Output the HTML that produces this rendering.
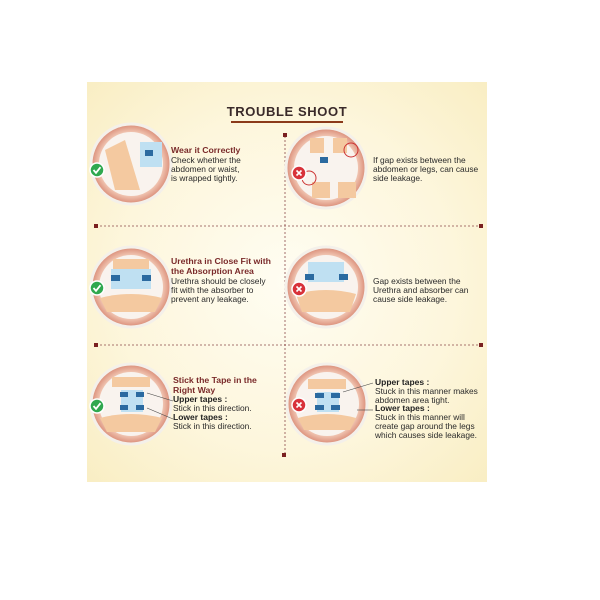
<!DOCTYPE html>
<html><head><meta charset="utf-8"><style>
html,body{margin:0;padding:0;background:#fff;}
svg{display:block}
text{font-family:"Liberation Sans",Arial,sans-serif;}
.t{fill:#7a2a2a;font-weight:bold;font-size:8.7px}
.b{fill:#2a2a2a;font-size:8.4px}
.bb{fill:#222;font-weight:bold;font-size:8.5px}
</style></head><body>
<svg width="600" height="600" viewBox="0 0 600 600" xmlns="http://www.w3.org/2000/svg">
<defs>
<radialGradient id="bg" cx="0.5" cy="0.5" r="0.7">
<stop offset="0" stop-color="#fffdf2"/><stop offset="0.6" stop-color="#fdf6dc"/><stop offset="1" stop-color="#f9eec4"/>
</radialGradient>
<radialGradient id="cir" cx="0.5" cy="0.5" r="0.5">
<stop offset="0.75" stop-color="#f6d3c0"/><stop offset="1" stop-color="#d98a75"/>
</radialGradient>
<g id="ok"><circle r="7" fill="#2fa84f" stroke="#fff" stroke-width="1.5"/><path d="M-3.5,0 L-1,2.8 L3.5,-2.8" stroke="#fff" stroke-width="1.8" fill="none"/></g>
<g id="no"><circle r="7" fill="#d8323a" stroke="#fff" stroke-width="1.5"/><path d="M-2.5,-2.5 L2.5,2.5 M2.5,-2.5 L-2.5,2.5" stroke="#fff" stroke-width="1.6"/></g>
</defs>
<rect x="87" y="82" width="400" height="400" fill="url(#bg)"/>
<text x="287" y="116" text-anchor="middle" font-size="13" font-weight="bold" fill="#3a2a2a" letter-spacing="0.6">TROUBLE  SHOOT</text>
<rect x="231" y="121" width="112" height="2" fill="#8b3a1a"/>
<g stroke="#8b4a4a" stroke-width="0.8" stroke-dasharray="2,2" fill="none">
<line x1="285" y1="136" x2="285" y2="455"/>
<line x1="96" y1="226" x2="481" y2="226"/>
<line x1="96" y1="345" x2="481" y2="345"/>
</g>
<g fill="#7a2020">
<rect x="283" y="133" width="4" height="4"/><rect x="282" y="453" width="4" height="4"/>
<rect x="94" y="224" width="4" height="4"/><rect x="479" y="224" width="4" height="4"/>
<rect x="94" y="343" width="4" height="4"/><rect x="479" y="343" width="4" height="4"/>
</g>
<g>
<circle cx="131" cy="164" r="40" fill="url(#cir)" stroke="#f4f0ea" stroke-width="3"/>
<circle cx="131" cy="164" r="32" fill="#f9f3ee"/>
<path d="M105,150 L125,140 L140,190 L115,190Z" fill="#f4c9a0"/><rect x="140" y="142" width="22" height="25" fill="#bfe0f2"/><rect x="145" y="150" width="8" height="6" fill="#2b6aa0"/>
<use href="#ok" x="97" y="170"/>
</g>
<g>
<circle cx="326" cy="168" r="40" fill="url(#cir)" stroke="#f4f0ea" stroke-width="3"/>
<circle cx="326" cy="168" r="32" fill="#f9f3ee"/>
<rect x="310" y="138" width="14" height="15" fill="#f4c9a0"/><rect x="333" y="138" width="14" height="15" fill="#f4c9a0"/>
<rect x="312" y="182" width="18" height="16" fill="#f4c9a0"/><rect x="338" y="182" width="18" height="16" fill="#f4c9a0"/>
<rect x="320" y="157" width="8" height="6" fill="#2b6aa0"/>
<circle cx="351" cy="150" r="7" fill="none" stroke="#c33" stroke-width="1"/><circle cx="309" cy="178" r="7" fill="none" stroke="#c33" stroke-width="1"/>
<use href="#no" x="299" y="173"/>
</g>
<g>
<circle cx="131" cy="287" r="40" fill="url(#cir)" stroke="#f4f0ea" stroke-width="3"/>
<circle cx="131" cy="287" r="32" fill="#f9f3ee"/>
<rect x="113" y="259" width="36" height="10" fill="#f4c9a0"/><rect x="111" y="269" width="40" height="20" fill="#bfe0f2"/>
<rect x="111" y="275" width="9" height="6" fill="#2b6aa0"/><rect x="142" y="275" width="9" height="6" fill="#2b6aa0"/>
<path d="M100,298 Q131,290 162,298 L155,312 L107,312Z" fill="#f4c9a0"/>
<use href="#ok" x="97" y="288"/>
</g>
<g>
<circle cx="326" cy="287" r="40" fill="url(#cir)" stroke="#f4f0ea" stroke-width="3"/>
<circle cx="326" cy="287" r="32" fill="#f9f3ee"/>
<rect x="308" y="262" width="36" height="20" fill="#bfe0f2"/>
<rect x="305" y="274" width="9" height="6" fill="#2b6aa0"/><rect x="339" y="274" width="9" height="6" fill="#2b6aa0"/>
<path d="M296,294 Q326,286 356,294 L350,312 L302,312Z" fill="#f4c9a0"/>
<use href="#no" x="299" y="289"/>
</g>
<g>
<circle cx="131" cy="404" r="40" fill="url(#cir)" stroke="#f4f0ea" stroke-width="3"/>
<circle cx="131" cy="404" r="32" fill="#f9f3ee"/>
<rect x="112" y="377" width="38" height="10" fill="#f4c9a0"/><rect x="121" y="390" width="22" height="22" fill="#bfe0f2"/>
<rect x="120" y="392" width="8" height="5" fill="#2b6aa0"/><rect x="136" y="392" width="8" height="5" fill="#2b6aa0"/>
<rect x="120" y="405" width="8" height="5" fill="#2b6aa0"/><rect x="136" y="405" width="8" height="5" fill="#2b6aa0"/>
<path d="M100,418 Q131,410 162,418 L155,432 L107,432Z" fill="#f4c9a0"/>
<use href="#ok" x="97" y="406"/>
</g>
<g>
<circle cx="327" cy="404" r="40" fill="url(#cir)" stroke="#f4f0ea" stroke-width="3"/>
<circle cx="327" cy="404" r="32" fill="#f9f3ee"/>
<rect x="308" y="379" width="38" height="10" fill="#f4c9a0"/><rect x="317" y="392" width="22" height="20" fill="#bfe0f2"/>
<rect x="315" y="393" width="9" height="5" fill="#2b6aa0"/><rect x="331" y="393" width="9" height="5" fill="#2b6aa0"/>
<rect x="315" y="405" width="9" height="5" fill="#2b6aa0"/><rect x="331" y="405" width="9" height="5" fill="#2b6aa0"/>
<path d="M298,418 Q327,410 356,418 L350,430 L304,430Z" fill="#f4c9a0"/>
<use href="#no" x="299" y="405"/>
</g>
<g stroke="#444" stroke-width="0.6" fill="none">
<line x1="147" y1="393" x2="173" y2="401"/><line x1="147" y1="408" x2="173" y2="419"/>
<line x1="343" y1="392" x2="373" y2="383"/><line x1="357" y1="410" x2="373" y2="410"/>
</g>
<text class="t" x="171" y="153">Wear it Correctly</text>
<text class="b" x="171" y="163">Check whether the</text>
<text class="b" x="171" y="172">abdomen or waist,</text>
<text class="b" x="171" y="181">is wrapped tightly.</text>
<text class="b" x="373" y="163">If gap exists between the</text>
<text class="b" x="373" y="172">abdomen or legs, can cause</text>
<text class="b" x="373" y="181">side leakage.</text>

<text class="t" x="171" y="264">Urethra in Close Fit with</text>
<text class="t" x="171" y="274">the Absorption Area</text>
<text class="b" x="171" y="284">Urethra should be closely</text>
<text class="b" x="171" y="293">fit with the absorber to</text>
<text class="b" x="171" y="302">prevent any leakage.</text>
<text class="b" x="373" y="284">Gap exists between the</text>
<text class="b" x="373" y="293">Urethra and absorber can</text>
<text class="b" x="373" y="302">cause side leakage.</text>

<text class="t" x="173" y="383">Stick the Tape in the</text>
<text class="t" x="173" y="393">Right Way</text>
<text class="bb" x="173" y="402">Upper tapes :</text>
<text class="b" x="173" y="411">Stick in this direction.</text>
<text class="bb" x="173" y="420">Lower tapes :</text>
<text class="b" x="173" y="429">Stick in this direction.</text>
<text class="bb" x="375" y="385">Upper tapes :</text>
<text class="b" x="375" y="394">Stuck in this manner makes</text>
<text class="b" x="375" y="403">abdomen area tight.</text>
<text class="bb" x="375" y="411">Lower tapes :</text>
<text class="b" x="375" y="420">Stuck in this manner will</text>
<text class="b" x="375" y="429">create gap around the legs</text>
<text class="b" x="375" y="438">which causes side leakage.</text>
</svg>
</body></html>
